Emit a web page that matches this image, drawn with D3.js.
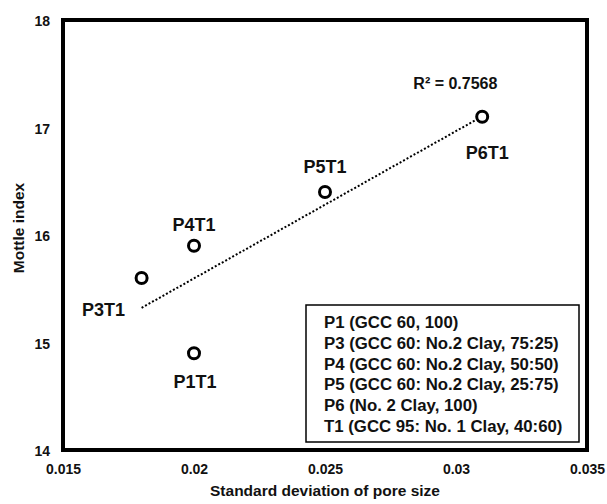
<!DOCTYPE html>
<html>
<head>
<meta charset="utf-8">
<script src="https://cdn.jsdelivr.net/npm/d3@7"></script>
<style>
  body { margin: 0; background: #fff; }
  text { font-family: Arial, "Liberation Sans", sans-serif; font-weight: 700; }
</style>
</head>
<body>
<svg id="chart"></svg>
<script>
// data
const names = ['P3T1', 'P4T1', 'P1T1', 'P5T1', 'P6T1'];
const sdValues = [0.018, 0.020, 0.020, 0.025, 0.031];
const mottleValues = [15.6, 15.9, 14.9, 16.4, 17.1];
const xTicks = [0.015, 0.02, 0.025, 0.03, 0.035];
const yTicks = [14, 15, 16, 17, 18];
const legendLines = [
    'P1 (GCC 60, 100)',
    'P3 (GCC 60: No.2 Clay, 75:25)',
    'P4 (GCC 60: No.2 Clay, 50:50)',
    'P5 (GCC 60: No.2 Clay, 25:75)',
    'P6 (No. 2 Clay, 100)',
    'T1 (GCC 95: No. 1 Clay, 40:60)'
];

const width = 607, height = 504;
const margin = {top: 20, right: 20, bottom: 54, left: 63};
const innerW = width - margin.left - margin.right;
const innerH = height - margin.top - margin.bottom;

const svg = d3.select('#chart')
    .attr('width', width)
    .attr('height', height);

const chart = svg.append('g')
    .attr('transform', `translate(${margin.left}, ${margin.top})`);

const xscale = d3.scaleLinear().domain([0.015, 0.035]).range([0, innerW]);
const yscale = d3.scaleLinear().domain([14, 18]).range([innerH, 0]);

const data = names.map((n, i) => ({name: n, x: sdValues[i], y: mottleValues[i]}));

// axes (labels only, no ticks)
const xaxis = d3.axisBottom(xscale).tickValues(xTicks)
    .tickFormat(d => String(+d.toFixed(3))).tickSize(0).tickPadding(11);
const yaxis = d3.axisLeft(yscale).tickValues(yTicks)
    .tickFormat(d3.format('d')).tickSize(0).tickPadding(13);

const xg = chart.append('g').attr('transform', `translate(0, ${innerH})`).call(xaxis);
const yg = chart.append('g').call(yaxis);
[xg, yg].forEach(g => {
    g.select('.domain').remove();
    g.attr('font-family', null).attr('font-size', null);
    g.selectAll('text')
        .attr('font-weight', 'bold')
        .attr('font-size', '14px')
        .attr('fill', '#111');
});
yg.selectAll('text').attr('dy', '0.4em');
xg.selectAll('text').attr('dy', '0.9em');

// linear trend line
const mx = d3.mean(data, d => d.x), my = d3.mean(data, d => d.y);
const sxy = d3.sum(data, d => (d.x - mx) * (d.y - my));
const sxx = d3.sum(data, d => (d.x - mx) ** 2);
const slope = sxy / sxx, icpt = my - slope * mx;
const xExt = d3.extent(data, d => d.x);
chart.append('line')
    .attr('x1', xscale(xExt[0])).attr('y1', yscale(icpt + slope * xExt[0]))
    .attr('x2', xscale(xExt[1])).attr('y2', yscale(icpt + slope * xExt[1]))
    .attr('stroke', '#000')
    .attr('stroke-width', 2)
    .attr('stroke-dasharray', '2,2');

// points
chart.selectAll('circle.pt')
    .data(data)
    .join('circle')
    .attr('class', 'pt')
    .attr('cx', d => xscale(d.x))
    .attr('cy', d => yscale(d.y))
    .attr('r', 5.5)
    .attr('fill', '#fff')
    .attr('stroke', '#000')
    .attr('stroke-width', 3);

// point labels
const labelPos = {
    P3T1: {dx: -38, dy: 38},
    P4T1: {dx: 0, dy: -15},
    P1T1: {dx: 1, dy: 35},
    P5T1: {dx: 0, dy: -19},
    P6T1: {dx: 5, dy: 42}
};
chart.selectAll('text.lbl')
    .data(data)
    .join('text')
    .attr('class', 'lbl')
    .attr('x', d => xscale(d.x) + labelPos[d.name].dx)
    .attr('y', d => yscale(d.y) + labelPos[d.name].dy)
    .attr('text-anchor', 'middle')
    .attr('font-weight', 'bold')
    .attr('font-size', '18px')
    .attr('fill', '#111')
    .text(d => d.name);

// R squared
const r2 = sxy * sxy / (sxx * d3.sum(data, d => (d.y - my) ** 2));
chart.append('text')
    .attr('x', xscale(0.0299) + 2)
    .attr('y', yscale(17.5) + 15)
    .attr('text-anchor', 'middle')
    .attr('font-weight', 'bold')
    .attr('font-size', '16px')
    .attr('fill', '#111')
    .text(`R² = ${r2.toFixed(4)}`);

// legend box
const legend = svg.append('g').attr('transform', 'translate(306, 305)');
legend.append('rect')
    .attr('width', 273).attr('height', 137)
    .attr('fill', '#fff')
    .attr('stroke', '#000')
    .attr('stroke-width', 1.5);
legend.selectAll('text')
    .data(legendLines)
    .join('text')
    .attr('x', 18)
    .attr('y', (d, i) => 23 + i * 20.8)
    .attr('font-weight', 'bold')
    .attr('font-size', '16.8px')
    .attr('fill', '#111')
    .text(d => d);

// plot frame
svg.append('rect')
    .attr('x', margin.left).attr('y', margin.top)
    .attr('width', innerW).attr('height', innerH)
    .style('fill', 'none')
    .style('stroke', '#000')
    .style('stroke-width', '4px');

// axis titles
svg.append('text')
    .attr('x', margin.left + innerW / 2)
    .attr('y', 496)
    .attr('text-anchor', 'middle')
    .attr('font-weight', 'bold')
    .attr('font-size', '15.5px')
    .attr('fill', '#111')
    .text('Standard deviation of pore size');

svg.append('text')
    .attr('transform', 'rotate(-90)')
    .attr('x', -228)
    .attr('y', 24)
    .attr('text-anchor', 'middle')
    .attr('font-weight', 'bold')
    .attr('font-size', '15.5px')
    .attr('fill', '#111')
    .text('Mottle index');
</script>
</body>
</html>
